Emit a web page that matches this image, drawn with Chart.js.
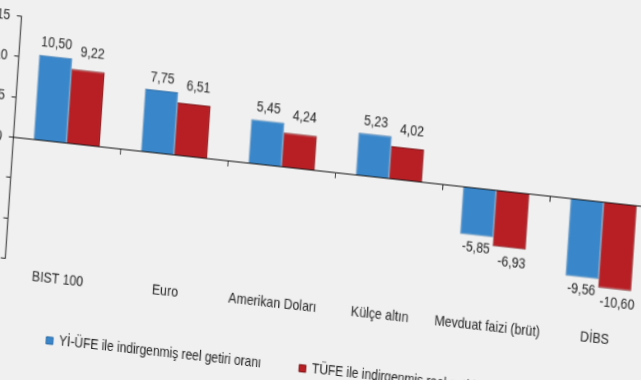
<!DOCTYPE html>
<html><head><meta charset="utf-8">
<script src="https://cdn.jsdelivr.net/npm/chart.js@4/dist/chart.umd.min.js"></script>
<style>
html,body{margin:0;padding:0;width:641px;height:380px;overflow:hidden;background:#f0f0f0;}
#wrap{position:absolute;left:0;top:0;width:938px;height:480px;transform-origin:0 0;transform:matrix(0.82,0.0902,-0.067,1,-81.46,-96.31);}
canvas{display:block;}
</style></head><body>
<div id="wrap"><canvas id="c" width="938" height="480"></canvas></div>
<script>
const categories = ['BIST 100', 'Euro', 'Amerikan Doları', 'Külçe altın', 'Mevduat faizi (brüt)', 'DİBS'];
const yiUfeValues = [10.50, 7.75, 5.45, 5.23, -5.85, -9.56];
const tufeValues = [9.22, 6.51, 4.24, 4.02, -6.93, -10.60];
const seriesNames = ['Yİ-ÜFE ile indirgenmiş reel getiri oranı', 'TÜFE ile indirgenmiş reel getiri oranı'];
const yMin = -15, yMax = 15, yStep = 5;

const FONT = "'Liberation Sans', Arial, sans-serif";
const TEXT = '#222';

const valueLabels = {
  id: 'valueLabels',
  afterDatasetsDraw(chart) {
    const ctx = chart.ctx;
    ctx.save();
    ctx.font = '15px ' + FONT;
    ctx.fillStyle = TEXT;
    ctx.textAlign = 'center';
    chart.data.datasets.forEach((ds, di) => {
      const meta = chart.getDatasetMeta(di);
      meta.data.forEach((bar, i) => {
        const v = ds.data[i];
        const txt = v.toFixed(2).replace('.', ',');
        const dx = di === 0 ? 0 : 4;
        if (v >= 0) {
          ctx.textBaseline = 'bottom';
          ctx.fillText(txt, bar.x + dx, bar.y - (di === 0 ? 5 : 10));
        } else {
          ctx.textBaseline = 'top';
          ctx.fillText(txt, bar.x + dx, bar.y + (di === 0 ? 5 : 7));
        }
      });
    });
    ctx.restore();
  }
};

new Chart(document.getElementById('c'), {
  type: 'bar',
  data: {
    labels: categories,
    datasets: [
      { label: seriesNames[0], data: yiUfeValues, backgroundColor: '#3987ca', borderColor: '#2b6aa6', borderWidth: 1, categoryPercentage: 0.615, barPercentage: 1 },
      { label: seriesNames[1], data: tufeValues, backgroundColor: '#b71f25', borderColor: '#7a1515', borderWidth: 1, categoryPercentage: 0.615, barPercentage: 1 }
    ]
  },
  options: {
    responsive: false,
    animation: false,
    devicePixelRatio: 1,
    layout: { padding: { left: 21.5, top: 100.6, right: 18.9, bottom: 43.3 } },
    plugins: {
      tooltip: { enabled: false },
      legend: {
        position: 'bottom', align: 'center',
        labels: { boxWidth: 8.5, boxHeight: 7, padding: 46, color: TEXT, font: { family: FONT, size: 14.6 } }
      }
    },
    scales: {
      x: {
        type: 'category', position: 'bottom', offset: true,
        grid: { display: false, drawTicks: false }, border: { display: false },
        ticks: { color: TEXT, font: { family: FONT, size: 15 }, mirror: true, padding: -25, maxRotation: 0, autoSkip: false },
        afterFit(s) { s.height = 23.8; }
      },
      x2: {
        type: 'category', position: { y: 0 }, offset: true,
        grid: { display: true, offset: true, drawOnChartArea: false, drawTicks: true, tickLength: 5, color: '#222' },
        border: { display: true, color: '#111', width: 1 },
        ticks: { display: false }
      },
      y: {
        type: 'linear', position: 'left', min: yMin, max: yMax,
        ticks: { stepSize: yStep, color: TEXT, font: { family: FONT, size: 15 }, padding: 8, callback: v => String(v) },
        grid: { drawOnChartArea: false, drawTicks: true, tickLength: 5, color: '#222' },
        border: { display: true, color: '#111', width: 1.2 },
        afterFit(s) { s.width = 111.7; }
      }
    }
  },
  plugins: [valueLabels]
});
</script>
</body></html>
